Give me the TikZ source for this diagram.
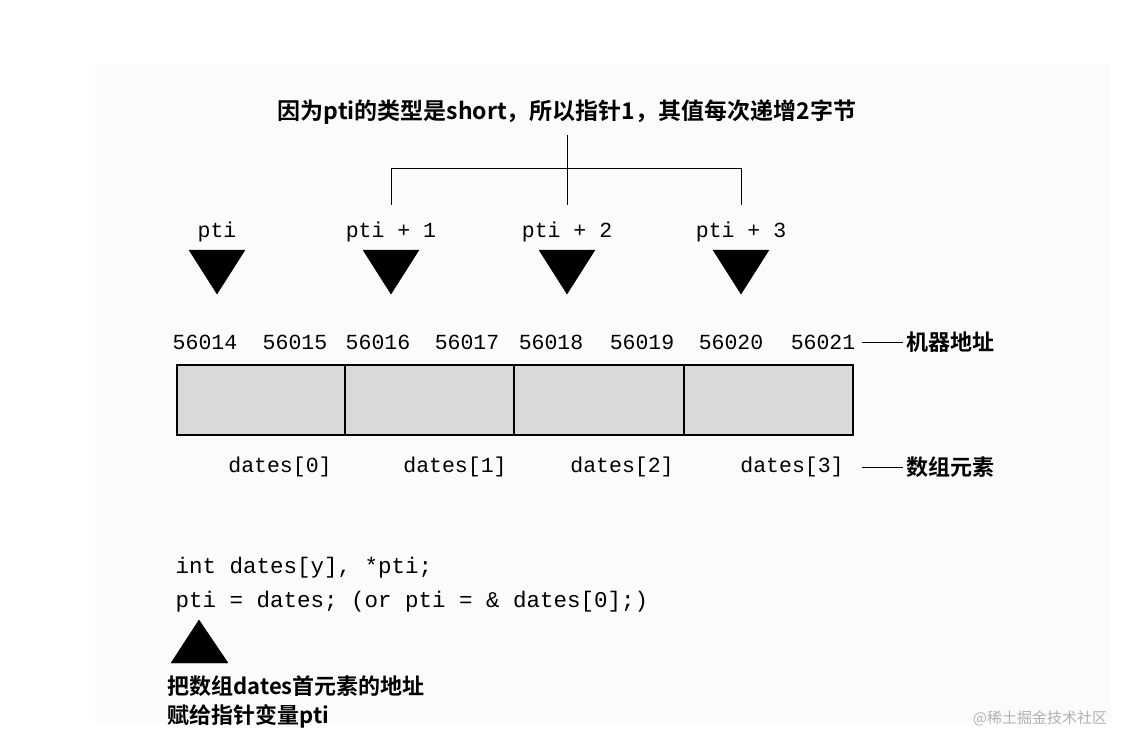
\documentclass[tikz,border=0pt]{standalone}
\usepackage{fontspec}
\setmainfont{Liberation Serif}
\setmonofont{Liberation Mono}
\newfontfamily\cjk{Noto Sans CJK SC}[BoldFont={Noto Sans CJK SC Bold}]
\begin{document}
\begin{tikzpicture}[x=1pt,y=-1pt,
  lab/.style={font=\cjk\bfseries\fontsize{22}{26}\selectfont},
  mono/.style={font=\ttfamily\fontsize{21.5}{25}\selectfont},
  down/.style={fill=black,draw=black},
  cell/.style={draw=black,line width=1.6pt,fill=gray!30},
  line/.style={draw=black,line width=1pt}]
\useasboundingbox (0,0) rectangle (1126,736);
\fill[gray!3] (95,65) rectangle (1110,722);
\node[lab,font=\cjk\bfseries\fontsize{23}{26}\selectfont] (top) at (567,112) {因为pti的类型是short，所以指针1，其值每次递增2字节};
\coordinate (bt) at (567,135);
\coordinate (bl) at (391,168);
\coordinate (br) at (741,168);
\coordinate (bld) at (391,205);
\coordinate (brd) at (741,205);
\coordinate (bmd) at (567,205);
\draw[line] (bt) -- (bmd);
\draw[line] (bld) -- (bl) -- (br) -- (brd);
\foreach \x/\t/\n in {217/pti/p0,391/pti + 1/p1,567/pti + 2/p2,741/pti + 3/p3}{
  \node[mono] (\n) at (\x,232) {\t};
  \fill[down] (\x-28,250) -- (\x+28,250) -- (\x,294) -- cycle;
}
\foreach \x/\t in {205/56014,295/56015,378/56016,467/56017,551/56018,642/56019,731/56020,823/56021}{
  \node[mono] (a\t) at (\x,342) {\t};
}
\node[lab,anchor=west] (mach) at (903,342) {机器地址};
\draw[line] (862,342) -- (mach.west);
\foreach \a/\b/\n in {177/345/c0,345/514/c1,514/684/c2,684/853/c3}{
  \draw[cell] (\a,365) rectangle (\b,435);
}
\foreach \x/\i in {280/0,455/1,622/2,792/3}{
  \node[mono] (d\i) at (\x,467) {dates[\i]};
}
\node[lab,anchor=west] (elem) at (903,467) {数组元素};
\draw[line] (862,467) -- (elem.west);
\node[mono,font=\ttfamily\fontsize{22.5}{25}\selectfont,anchor=west] (c1) at (172,568) {int dates[y], *pti;};
\node[mono,font=\ttfamily\fontsize{22.5}{25}\selectfont,anchor=west] (c2) at (172,602) {pti = dates; (or pti = \& dates[0];)};
\fill[down] (171,663) -- (228,663) -- (199,620) -- cycle;
\node[lab,anchor=west] (n1) at (164,686) {把数组dates首元素的地址};
\node[lab,anchor=west] (n2) at (164,716) {赋给指针变量pti};
\node[font=\cjk\fontsize{15}{17}\selectfont,text=gray!60] (wm) at (1040,718) {@稀土掘金技术社区};
\end{tikzpicture}
\end{document}
